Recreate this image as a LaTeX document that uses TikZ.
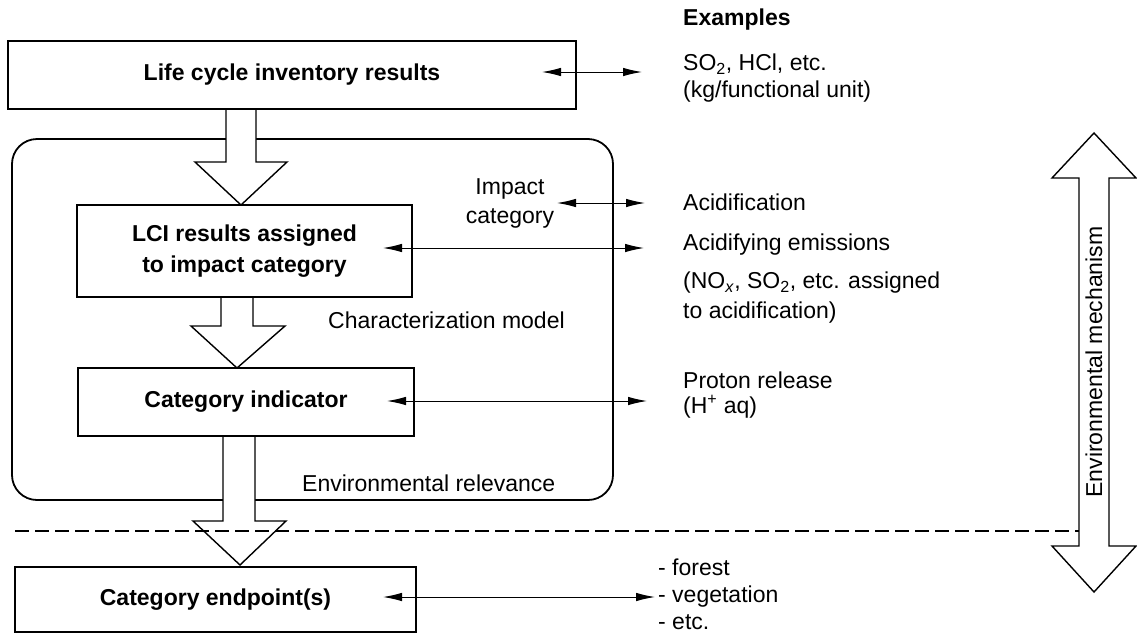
\documentclass[tikz,border=0pt]{standalone}
\usepackage{fontspec}
\setmainfont{Liberation Sans}
\usetikzlibrary{arrows.meta}
\begin{document}
\begin{tikzpicture}[x=1pt,y=-1pt,
  every node/.style={font=\fontsize{23}{28}\selectfont, inner sep=0pt},
  box/.style={draw, line width=1.8pt, fill=white, font=\fontsize{23}{31}\selectfont\bfseries, align=center},
  lbl/.style={anchor=west, align=left},
  dbl/.style={{Latex[length=19pt,width=8.5pt]}-{Latex[length=19pt,width=8.5pt]}, line width=1pt},
  blockarrow/.style={draw, fill=white, line width=1.4pt, line join=miter},
  sep/.style={dash pattern=on 14pt off 6pt, line width=1.1pt}
]
\useasboundingbox (0,0) rectangle (1137,635);

% frame of the characterization part
\node[draw, line width=1.8pt, rounded corners=25pt, minimum width=601pt, minimum height=361pt] (frame) at (312.5,319.5) {};

% block arrows
\draw[blockarrow] (226,109) -- (226,162) -- (195,162) -- (241,205) -- (287,162) -- (256,162) -- (256,109);
\draw[blockarrow] (221,297) -- (221,326) -- (191,326) -- (237,368) -- (285,326) -- (253,326) -- (253,297);
\draw[blockarrow] (223,436) -- (223,521) -- (193,521) -- (240,565) -- (286,521) -- (255,521) -- (255,436);

% boxes
\node[box, minimum width=568pt, minimum height=68pt] (lci) at (292,75) {Life cycle inventory results};
\node[box, minimum width=335pt, minimum height=92pt] (assign) at (244.5,251) {LCI results assigned\\to impact category};
\node[box, minimum width=336pt, minimum height=68pt] (ind) at (246,402) {Category indicator};
\node[box, minimum width=401pt, minimum height=65pt] (endp) at (215.5,599.5) {Category endpoint(s)};

% texts
\node[font=\fontsize{23}{28}\selectfont\bfseries, anchor=west] (ex) at (683,20) {Examples};
\node[lbl, font=\fontsize{23}{27}\selectfont] (t1) at (683,78) {SO\textsubscript{2}, HCl, etc.\\(kg/functional unit)};
\node[align=center, font=\fontsize{23}{29}\selectfont] (impc) at (510,203) {Impact\\category};
\node[lbl] (t2) at (683,202) {Acidification};
\node[lbl] (t3) at (683,245) {Acidifying emissions};
\node[lbl, font=\fontsize{23}{30}\selectfont] (t4) at (683,298) {(NO\textsubscript{\textit{x}}, SO\textsubscript{2}, etc. assigned\\to acidification)};
\node[anchor=west] (cm) at (328,320) {Characterization model};
\node[lbl, font=\fontsize{23}{25}\selectfont] (t5) at (683,395) {Proton release\\(H\textsuperscript{+} aq)};
\node[anchor=west] (er) at (302,483) {Environmental relevance};
\node[lbl, font=\fontsize{23}{27}\selectfont] (t6) at (658,594) {- forest\\- vegetation\\- etc.};

% double arrows
\coordinate (a1l) at (542,72);  \coordinate (a1r) at (642,72);
\coordinate (a2l) at (557,203); \coordinate (a2r) at (645,203);
\coordinate (a3l) at (383,248); \coordinate (a3r) at (644,248);
\coordinate (a4l) at (387,401); \coordinate (a4r) at (647,401);
\coordinate (a5l) at (383,597); \coordinate (a5r) at (655,597);
\draw[dbl] (a1l) -- (a1r);
\draw[dbl] (a2l) -- (a2r);
\draw[dbl] (a3l) -- (a3r);
\draw[dbl] (a4l) -- (a4r);
\draw[dbl] (a5l) -- (a5r);

% environmental mechanism arrow
\draw[blockarrow] (1094,133) -- (1136,178) -- (1109,178) -- (1109,546) -- (1136,546) -- (1094,592)
  -- (1052,546) -- (1079,546) -- (1079,178) -- (1052,178) -- cycle;
\node[rotate=90] (em) at (1094,362) {Environmental mechanism};

% dashed separator
\coordinate (dl) at (15,531); \coordinate (dr) at (1079,531);
\draw[sep] (dl) -- (dr);
\end{tikzpicture}
\end{document}
